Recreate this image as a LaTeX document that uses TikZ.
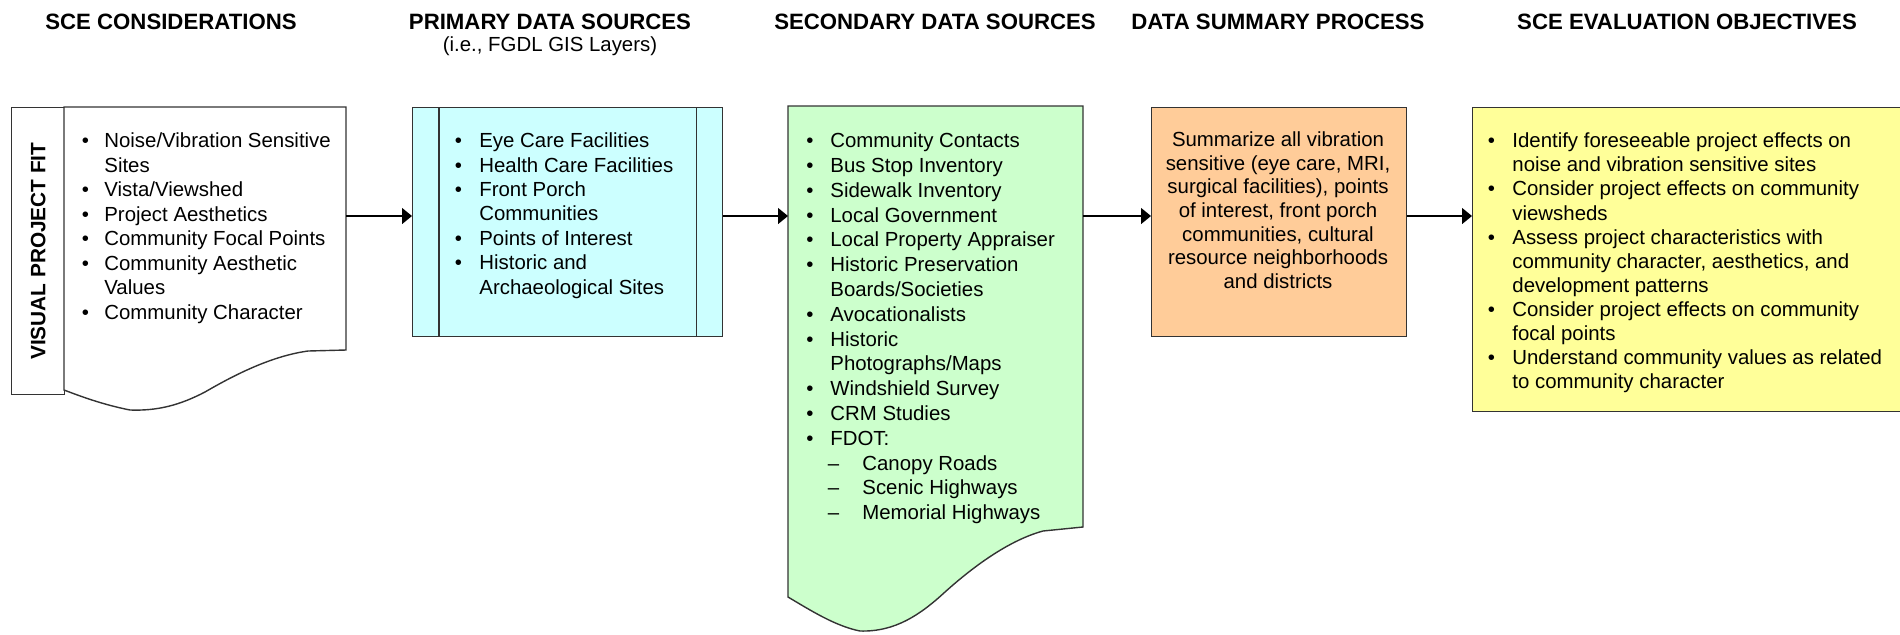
\documentclass[tikz,border=0pt]{standalone}
\usepackage{fontspec}
\setmainfont{Liberation Sans}
\usetikzlibrary{arrows.meta}
\definecolor{cyanfill}{HTML}{CCFFFF}
\definecolor{greenfill}{HTML}{CCFFCC}
\definecolor{orangefill}{HTML}{FFCC99}
\definecolor{yellowfill}{HTML}{FFFF99}
\definecolor{edgecol}{HTML}{333333}
\newcommand{\bul}[1]{\makebox[#1][l]{\textbullet}}
\newcommand{\dsh}{\hspace*{10.75pt}\makebox[17.25pt][l]{--}}
\newcommand{\fst}{\rule{0pt}{8pt}}
\begin{document}
\begin{tikzpicture}[x=0.5pt,y=-0.5pt,
  box/.style={draw=edgecol, line width=0.7pt, inner sep=0, anchor=north west},
  ghost/.style={inner sep=0, outer sep=0, anchor=north west},
  outline/.style={draw=edgecol, line width=0.7pt},
  titletext/.style={font=\fontsize{11.1}{13}\selectfont\bfseries, inner sep=0},
  subtitletext/.style={font=\fontsize{10.2}{12}\selectfont, inner sep=0},
  bodytext/.style={inner sep=0, anchor=north west, align=left},
  conn/.style={-{Triangle[length=5pt,width=8pt]}, line width=0.65pt, draw=black},
]
\useasboundingbox (0,0) rectangle (1900,634);

% titles
\node[titletext] (t1) at (171,22) {SCE CONSIDERATIONS};
\node[titletext] (t2) at (550,22) {PRIMARY DATA SOURCES};
\node[subtitletext] (t2b) at (550,46) {(i.e., FGDL GIS Layers)};
\node[titletext] (t3) at (935,22) {SECONDARY DATA SOURCES};
\node[titletext] (t4) at (1278,22) {DATA SUMMARY PROCESS};
\node[titletext] (t5) at (1687,22) {SCE EVALUATION OBJECTIVES};

% SCE considerations: label box + document shape
\node[box, fill=white, minimum width=26.5pt, minimum height=143.5pt] (lbl) at (11,107) {};
\node[rotate=90, inner sep=0, font=\fontsize{10.4}{12}\selectfont\bfseries] (vlabel) at (lbl.center) {VISUAL PROJECT FIT};
\node[ghost, minimum width=141pt, minimum height=121.5pt] (cons) at (64,107) {};
\draw[outline, fill=white] (cons.north west) -- (cons.north east) -- (cons.south east)
  -- (308,351) .. controls (272,356) and (236,374) .. (205,392)
  .. controls (180,405) and (158,411) .. (130,410)
  .. controls (105,405) and (85,398) .. (64,390) -- cycle;
\node[bodytext, font=\fontsize{10.2}{12.25}\selectfont] (constext) at (81.5,131.3) {%
\fst\bul{11.25pt}Noise/Vibration Sensitive\\
\hspace*{11.25pt}Sites\\
\bul{11.25pt}Vista/Viewshed\\
\bul{11.25pt}Project Aesthetics\\
\bul{11.25pt}Community Focal Points\\
\bul{11.25pt}Community Aesthetic\\
\hspace*{11.25pt}Values\\
\bul{11.25pt}Community Character};

% primary data sources
\node[box, fill=cyanfill, minimum width=155pt, minimum height=114.5pt] (prim) at (412,107) {};
\draw[outline] ([xshift=13.5pt]prim.north west) -- ([xshift=13.5pt]prim.south west);
\draw[outline] ([xshift=-13.5pt]prim.north east) -- ([xshift=-13.5pt]prim.south east);
\node[bodytext, font=\fontsize{10.2}{12.2}\selectfont] (primtext) at (454.5,131.3) {%
\fst\bul{12.25pt}Eye Care Facilities\\
\bul{12.25pt}Health Care Facilities\\
\bul{12.25pt}Front Porch\\
\hspace*{12.25pt}Communities\\
\bul{12.25pt}Points of Interest\\
\bul{12.25pt}Historic and\\
\hspace*{12.25pt}Archaeological Sites};

% secondary data sources
\node[ghost, minimum width=147.5pt, minimum height=210.5pt] (sec) at (788,106) {};
\draw[outline, fill=greenfill] (sec.north west) -- (sec.north east) -- (sec.south east)
  -- (1043,531) .. controls (1010,540) and (975,565) .. (945,592)
  .. controls (920,615) and (895,632) .. (860,631)
  .. controls (835,626) and (810,610) .. (788,597) -- cycle;
\node[bodytext, font=\fontsize{10.2}{12.4}\selectfont] (sectext) at (806,131.3) {%
\fst\bul{12pt}Community Contacts\\
\bul{12pt}Bus Stop Inventory\\
\bul{12pt}Sidewalk Inventory\\
\bul{12pt}Local Government\\
\bul{12pt}Local Property Appraiser\\
\bul{12pt}Historic Preservation\\
\hspace*{12pt}Boards/Societies\\
\bul{12pt}Avocationalists\\
\bul{12pt}Historic\\
\hspace*{12pt}Photographs/Maps\\
\bul{12pt}Windshield Survey\\
\bul{12pt}CRM Studies\\
\bul{12pt}FDOT:\\
\dsh Canopy Roads\\
\dsh Scenic Highways\\
\dsh Memorial Highways};

% data summary process
\node[box, fill=orangefill, minimum width=127.5pt, minimum height=114.5pt] (summ) at (1151,107) {};
\node[inner sep=0, anchor=north, align=center, font=\fontsize{10.2}{11.8}\selectfont] (summtext) at (1278,130.3) {%
\fst Summarize all vibration\\
sensitive (eye care, MRI,\\
surgical facilities), points\\
of interest, front porch\\
communities, cultural\\
resource neighborhoods\\
and districts};

% SCE evaluation objectives
\node[box, fill=yellowfill, minimum width=216pt, minimum height=152pt] (obj) at (1472,107) {};
\node[bodytext, font=\fontsize{10.2}{12.05}\selectfont] (objtext) at (1487.4,131.3) {%
\fst\bul{12.3pt}Identify foreseeable project effects on\\
\hspace*{12.3pt}noise and vibration sensitive sites\\
\bul{12.3pt}Consider project effects on community\\
\hspace*{12.3pt}viewsheds\\
\bul{12.3pt}Assess project characteristics with\\
\hspace*{12.3pt}community character, aesthetics, and\\
\hspace*{12.3pt}development patterns\\
\bul{12.3pt}Consider project effects on community\\
\hspace*{12.3pt}focal points\\
\bul{12.3pt}Understand community values as related\\
\hspace*{12.3pt}to community character};

% connectors
\coordinate (ay) at (0,216);
\draw[conn] (cons.east |- ay) -- (prim.west |- ay);
\draw[conn] (prim.east |- ay) -- (sec.west |- ay);
\draw[conn] (sec.east |- ay) -- (summ.west |- ay);
\draw[conn] (summ.east |- ay) -- (obj.west |- ay);
\end{tikzpicture}
\end{document}
